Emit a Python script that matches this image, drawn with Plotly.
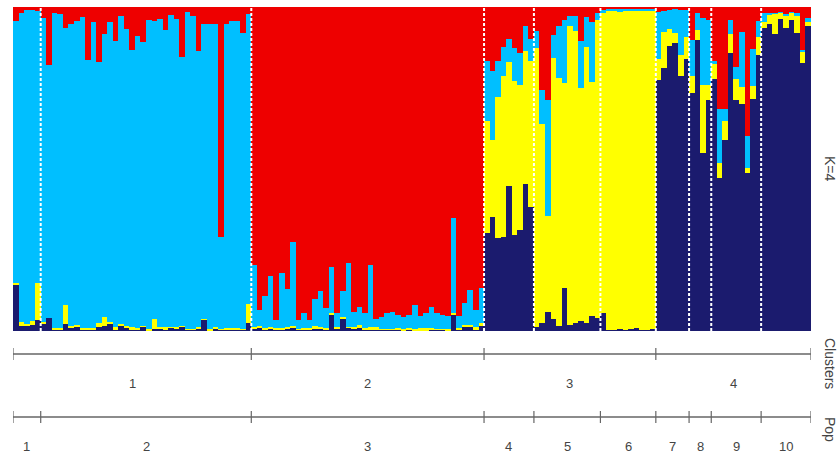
import plotly.graph_objects as go

# Population sizes (individuals per population, in plot order)
pop_sizes = [5, 38, 42, 9, 12, 10, 6, 4, 9, 9]
pop_labels = ["1", "2", "3", "4", "5", "6", "7", "8", "9", "10"]
cluster_pops = [[0, 1], [2], [3, 4, 5], [6, 7, 8, 9]]
cluster_labels = ["1", "2", "3", "4"]

# Admixture proportions (K=4) per individual
navy = [0.142, 0.015, 0.015, 0.018, 0.034,
        0.024, 0.039, 0.006, 0.006, 0.022, 0.011, 0.015, 0.006, 0.006, 0.006, 0.013, 0.016, 0.024, 0.003, 0.015,
        0.011, 0.006, 0.006, 0.013, 0.003, 0.006, 0.006, 0.006, 0.010, 0.008, 0.013, 0.005, 0.005, 0.008, 0.034,
        0.003, 0.006, 0.004, 0.004, 0.004, 0.006, 0.004, 0.024,
        0.008, 0.012, 0.006, 0.008, 0.006, 0.006, 0.008, 0.012, 0.005, 0.006, 0.006, 0.008, 0.008, 0.006, 0.052,
        0.008, 0.039, 0.010, 0.008, 0.008, 0.005, 0.006, 0.004, 0.004, 0.004, 0.004, 0.004, 0.003, 0.004, 0.003,
        0.003, 0.003, 0.004, 0.004, 0.004, 0.003, 0.052, 0.004, 0.015, 0.015, 0.004, 0.018,
        0.302, 0.351, 0.286, 0.289, 0.449, 0.297, 0.312, 0.454, 0.382,
        0.013, 0.026, 0.060, 0.036, 0.015, 0.132, 0.019, 0.026, 0.032, 0.026, 0.046, 0.040,
        0.055, 0.004, 0.003, 0.005, 0.004, 0.005, 0.008, 0.004, 0.004, 0.006,
        0.775, 0.812, 0.880, 0.889, 0.786, 0.839,
        0.736, 0.898, 0.548, 0.714,
        0.777, 0.472, 0.590, 0.858, 0.714, 0.701, 0.489, 0.717, 0.853,
        0.935, 0.948, 0.917, 0.963, 0.935, 0.961, 0.920, 0.827, 0.940]

yellow = [0.006, 0.013, 0.008, 0.013, 0.113,
          0.003, 0.000, 0.002, 0.004, 0.057, 0.003, 0.005, 0.004, 0.004, 0.004, 0.013, 0.026, 0.003, 0.010, 0.008,
          0.004, 0.005, 0.004, 0.003, 0.003, 0.030, 0.007, 0.005, 0.003, 0.005, 0.002, 0.002, 0.002, 0.003, 0.002,
          0.002, 0.007, 0.002, 0.006, 0.006, 0.003, 0.002, 0.059,
          0.004, 0.003, 0.003, 0.004, 0.002, 0.003, 0.003, 0.003, 0.002, 0.003, 0.003, 0.006, 0.004, 0.003, 0.003,
          0.004, 0.003, 0.003, 0.005, 0.012, 0.003, 0.006, 0.008, 0.003, 0.003, 0.003, 0.004, 0.002, 0.004, 0.003,
          0.006, 0.006, 0.004, 0.003, 0.003, 0.002, 0.003, 0.006, 0.003, 0.003, 0.008, 0.006,
          0.345, 0.239, 0.436, 0.497, 0.381, 0.476, 0.448, 0.409, 0.450,
          0.861, 0.614, 0.296, 0.807, 0.765, 0.633, 0.921, 0.899, 0.718, 0.850, 0.724, 0.920,
          0.925, 0.983, 0.985, 0.980, 0.986, 0.982, 0.980, 0.984, 0.985, 0.982,
          0.064, 0.110, 0.052, 0.031, 0.067, 0.068,
          0.051, 0.031, 0.211, 0.046,
          0.050, 0.046, 0.057, 0.059, 0.064, 0.051, 0.013, 0.040, 0.055,
          0.018, 0.028, 0.062, 0.021, 0.038, 0.023, 0.053, 0.033, 0.015]

lightblue = [0.808, 0.953, 0.969, 0.959, 0.842,
             0.939, 0.781, 0.973, 0.968, 0.856, 0.934, 0.938, 0.959, 0.825, 0.943, 0.804, 0.875, 0.926, 0.883, 0.948,
             0.918, 0.857, 0.899, 0.875, 0.955, 0.920, 0.951, 0.919, 0.963, 0.951, 0.830, 0.977, 0.964, 0.852, 0.913,
             0.942, 0.936, 0.285, 0.939, 0.948, 0.949, 0.914, 0.896,
             0.192, 0.050, 0.099, 0.158, 0.026, 0.169, 0.118, 0.259, 0.027, 0.046, 0.025, 0.086, 0.113, 0.061, 0.144,
             0.043, 0.081, 0.196, 0.047, 0.053, 0.049, 0.192, 0.024, 0.037, 0.048, 0.053, 0.040, 0.039, 0.041, 0.074,
             0.038, 0.046, 0.065, 0.048, 0.042, 0.041, 0.295, 0.036, 0.067, 0.109, 0.053, 0.108,
             0.185, 0.211, 0.110, 0.090, 0.072, 0.100, 0.098, 0.077, 0.068,
             0.051, 0.105, 0.358, 0.072, 0.160, 0.194, 0.033, 0.046, 0.144, 0.093, 0.183, 0.020,
             0.012, 0.008, 0.008, 0.010, 0.006, 0.008, 0.007, 0.008, 0.007, 0.008,
             0.145, 0.067, 0.060, 0.074, 0.139, 0.083,
             0.111, 0.051, 0.206, 0.200,
             0.005, 0.167, 0.038, 0.044, 0.036, 0.170, 0.100, 0.113, 0.050,
             0.027, 0.005, 0.003, 0.002, 0.006, 0.002, 0.008, 0.008, 0.011]

red = [0.044, 0.019, 0.008, 0.010, 0.011,
       0.034, 0.180, 0.019, 0.022, 0.065, 0.052, 0.042, 0.031, 0.165, 0.047, 0.170, 0.083, 0.047, 0.104, 0.029,
       0.067, 0.132, 0.091, 0.109, 0.039, 0.044, 0.036, 0.070, 0.024, 0.036, 0.155, 0.016, 0.029, 0.137, 0.051,
       0.053, 0.051, 0.709, 0.051, 0.042, 0.042, 0.080, 0.021,
       0.796, 0.935, 0.892, 0.830, 0.966, 0.822, 0.871, 0.726, 0.966, 0.945, 0.966, 0.900, 0.875, 0.930, 0.801,
       0.945, 0.877, 0.791, 0.940, 0.927, 0.943, 0.796, 0.964, 0.956, 0.945, 0.940, 0.952, 0.956, 0.951, 0.920,
       0.953, 0.945, 0.927, 0.945, 0.951, 0.954, 0.650, 0.954, 0.915, 0.873, 0.935, 0.868,
       0.168, 0.199, 0.168, 0.124, 0.098, 0.127, 0.142, 0.060, 0.100,
       0.075, 0.255, 0.286, 0.085, 0.060, 0.041, 0.027, 0.029, 0.106, 0.031, 0.047, 0.020,
       0.008, 0.005, 0.004, 0.005, 0.004, 0.005, 0.005, 0.004, 0.004, 0.004,
       0.016, 0.011, 0.008, 0.006, 0.008, 0.010,
       0.102, 0.020, 0.035, 0.040,
       0.168, 0.315, 0.315, 0.039, 0.186, 0.078, 0.398, 0.130, 0.042,
       0.020, 0.019, 0.018, 0.014, 0.021, 0.014, 0.019, 0.132, 0.034]

components = [("navy", navy, "#1b1b6e"), ("yellow", yellow, "#ffff00"),
              ("lightblue", lightblue, "#00bfff"), ("red", red, "#ee0000")]

n = sum(pop_sizes)
xs = list(range(n))

fig = go.Figure()
for name, vals, col in components:
    fig.add_trace(go.Bar(x=xs, y=vals, name=name, marker=dict(color=col, line=dict(width=0)),
                         width=1.0, showlegend=False, hoverinfo="skip"))

# boundaries in bar-index coordinates
bounds = [-0.5]
for s in pop_sizes:
    bounds.append(bounds[-1] + s)

shapes = []
for b in bounds[1:-1]:
    shapes.append(dict(type="line", xref="x", yref="paper", x0=b, x1=b, y0=0, y1=1,
                       line=dict(color="white", width=2, dash="3px,2px")))

line_col = "#666666"
text_col = "#444444"
px_h = 324.0
def py(p):
    return (331.0 - p) / px_h

cl_y = py(354)
pop_y = py(417)
tick = 6 / px_h

cluster_bounds = [bounds[g[0]] for g in cluster_pops] + [bounds[-1]]
shapes.append(dict(type="line", xref="x", yref="paper", x0=bounds[0], x1=bounds[-1], y0=cl_y, y1=cl_y,
                   line=dict(color=line_col, width=1.5)))
for b in cluster_bounds:
    shapes.append(dict(type="line", xref="x", yref="paper", x0=b, x1=b, y0=cl_y - tick, y1=cl_y + tick,
                       line=dict(color=line_col, width=1.2)))
shapes.append(dict(type="line", xref="x", yref="paper", x0=bounds[0], x1=bounds[-1], y0=pop_y, y1=pop_y,
                   line=dict(color=line_col, width=1.5)))
for b in bounds:
    shapes.append(dict(type="line", xref="x", yref="paper", x0=b, x1=b, y0=pop_y - tick, y1=pop_y + tick,
                       line=dict(color=line_col, width=1.2)))

font = dict(family="Arial, Liberation Sans, sans-serif", size=13, color=text_col)
annotations = []
for i, lab in enumerate(cluster_labels):
    a, b = cluster_bounds[i], cluster_bounds[i + 1]
    annotations.append(dict(x=(a + b) / 2, y=py(383), xref="x", yref="paper", text=lab,
                            showarrow=False, font=font, xanchor="center", yanchor="middle"))
for i, lab in enumerate(pop_labels):
    a, b = bounds[i], bounds[i + 1]
    annotations.append(dict(x=(a + b) / 2, y=py(446), xref="x", yref="paper", text=lab,
                            showarrow=False, font=font, xanchor="center", yanchor="middle"))

def pxx(p):
    return (p - 13.0) / 798.0

for txt, yy in [("K=4", 169), ("Clusters", 364), ("Pop", 430)]:
    annotations.append(dict(x=pxx(830), y=py(yy), xref="paper", yref="paper", text=txt,
                            showarrow=False, font=dict(family=font["family"], size=14, color=text_col),
                            textangle=90, xanchor="center", yanchor="middle"))

fig.update_layout(
    width=840, height=453,
    margin=dict(l=13, r=29, t=7, b=122, autoexpand=False),
    barmode="stack", bargap=0,
    paper_bgcolor="white", plot_bgcolor="white",
    xaxis=dict(range=[-0.5, n - 0.5], visible=False, fixedrange=True),
    yaxis=dict(range=[0, 1], visible=False, fixedrange=True),
    shapes=shapes, annotations=annotations,
)

fig.write_html("out.html", config={"displayModeBar": False},
               post_script="document.body.style.margin='0';document.body.style.overflow='hidden';")
